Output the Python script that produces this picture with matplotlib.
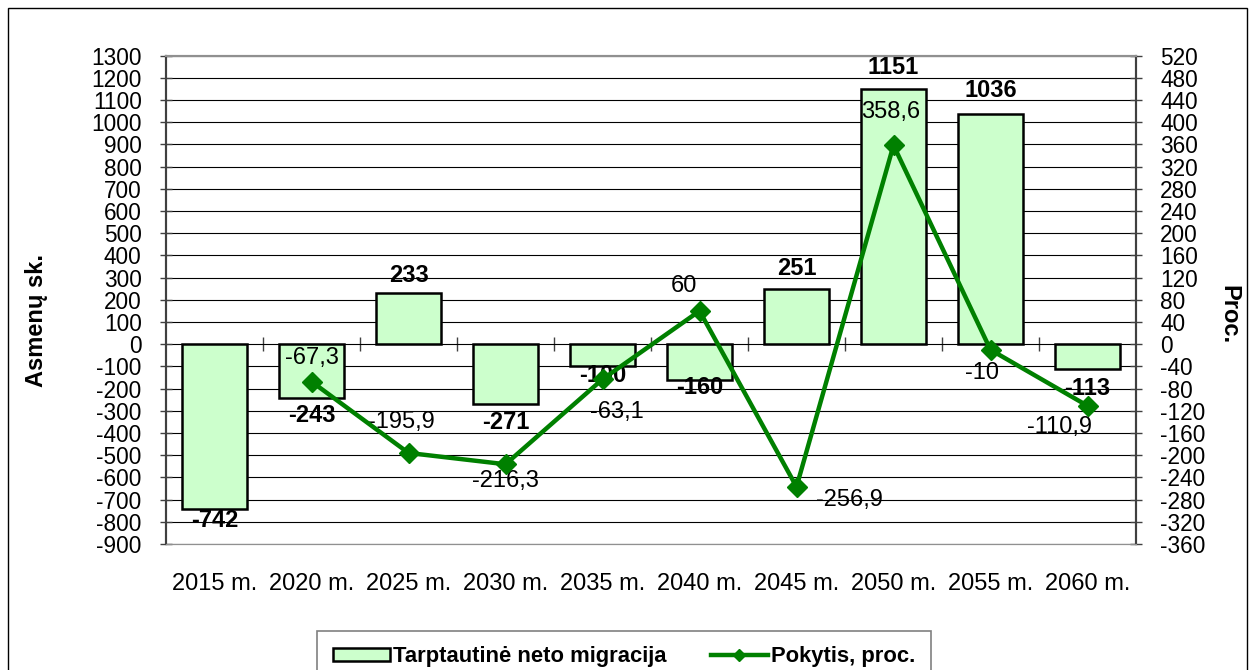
import numpy as np
import matplotlib
matplotlib.use("Agg")
import matplotlib.pyplot as plt
from matplotlib.patches import Rectangle

plt.rcParams['font.family'] = ['Liberation Sans', 'DejaVu Sans']
plt.rcParams['axes.unicode_minus'] = False

# data
years = ["2015 m.", "2020 m.", "2025 m.", "2030 m.", "2035 m.",
         "2040 m.", "2045 m.", "2050 m.", "2055 m.", "2060 m."]
migration = [-742, -243, 233, -271, -100, -160, 251, 1151, 1036, -113]
change_years = ["2020 m.", "2025 m.", "2030 m.", "2035 m.", "2040 m.",
                "2045 m.", "2050 m.", "2055 m.", "2060 m."]
change_pct = [-67.3, -195.9, -216.3, -63.1, 60, -256.9, 358.6, -10, -110.9]

# label offsets in pixels (manual placement as in the original)
bar_lbl_dy = [-12, -17, 17, -18, -9, -8, 20, 21, 24, -19]
line_lbl_off = [(0, 24), (-7, 31), (0, -17), (14, -33), (-16, 25),
                (53, -13), (-3, 33), (-8, -23), (-28, -21)]

green = "#008000"
barfill = "#ccffcc"

fig = plt.figure(figsize=(12.55, 6.7), dpi=100)
ax = fig.add_axes([166 / 1255, 1 - 544 / 670, 970 / 1255, 488.3 / 670])
ax2 = ax.twinx()

x = np.arange(len(years))
ax.bar(x, migration, width=0.67, color=barfill, edgecolor="black",
       linewidth=1.8, zorder=3)
ax.set_xlim(-0.5, len(years) - 0.5)
ax.set_ylim(-900, 1300)
ax.set_yticks(np.arange(-900, 1301, 100))
ax.set_axisbelow(True)
ax.yaxis.grid(True, color="black", linewidth=0.8)
ax.set_xticks(x)
ax.set_xticklabels(years, fontsize=17)
ax.tick_params(axis="x", length=0, pad=21)
ax.tick_params(axis="y", direction="inout", length=9, width=1,
               color="#404040", labelsize=16.3, pad=13)

for i, v in enumerate(migration):
    ax.annotate(str(v), (x[i], v), xytext=(0, bar_lbl_dy[i]),
                textcoords="offset pixels", ha="center", va="center",
                fontsize=17, fontweight="bold", zorder=4)

# small ticks on the zero line between categories
zero_frac = (0 - (-900)) / (1300 - (-900))
sec = ax.secondary_xaxis(zero_frac)
sec.set_xticks(np.arange(0.5, len(years) - 0.5, 1.0))
sec.set_xticklabels([])
sec.tick_params(direction="inout", length=10, width=1, color="#404040")
for s in sec.spines.values():
    s.set_visible(False)

xl = [years.index(c) for c in change_years]
ax2.plot(xl, change_pct, color=green, linewidth=3.2, marker="D",
         markersize=10, zorder=5)
ax2.set_ylim(-360, 520)
ax2.set_yticks(np.arange(-360, 521, 40))
ax2.tick_params(axis="y", direction="inout", length=9, width=1,
                color="#404040", labelsize=16.3, pad=13)
for i, v in enumerate(change_pct):
    txt = f"{v:g}".replace(".", ",")
    ax2.annotate(txt, (xl[i], v), xytext=line_lbl_off[i],
                 textcoords="offset pixels", ha="center", va="center",
                 fontsize=17)

for a in (ax, ax2):
    a.spines["left"].set_color("#404040")
    a.spines["right"].set_color("#404040")
    a.spines["left"].set_linewidth(1.5)
    a.spines["right"].set_linewidth(1.5)
    a.spines["top"].set_color("#909090")
    a.spines["top"].set_linewidth(1.5)
    a.spines["bottom"].set_color("#909090")

ax.set_ylabel("Asmenų sk.", fontsize=17, fontweight="bold")
ax.yaxis.set_label_coords((48 - 166) / 970, (544 - 321) / 488.3)
ax2.set_ylabel("Proc.", fontsize=17, fontweight="bold", rotation=-90)
ax2.yaxis.set_label_coords((1240 - 166) / 970, (544 - 315) / 488.3)

# legend
h_bar = Rectangle((0, 0), 1, 1, facecolor=barfill, edgecolor="black",
                  linewidth=1.8)
h_line, = plt.plot([], [], color=green, linewidth=3.2, marker="D",
                   markersize=6)
leg = fig.legend([h_bar, h_line],
                 ["Tarptautinė neto migracija", "Pokytis, proc."],
                 loc="upper center", bbox_to_anchor=(624 / 1255, 1 - 620 / 670),
                 ncol=2, fancybox=False, edgecolor="#808080", framealpha=1,
                 prop={"weight": "bold", "size": 15.8}, handlelength=2.6,
                 handleheight=0.55, handletextpad=0.15, columnspacing=2.0,
                 borderpad=0.7)
leg.get_frame().set_linewidth(1.2)

fig.patches.append(Rectangle((8 / 1255, -0.05), (1247 - 8) / 1255,
                             1.05 - 8 / 670, transform=fig.transFigure,
                             fill=False, edgecolor="black", linewidth=1))

fig.savefig("out.png", dpi=100)
